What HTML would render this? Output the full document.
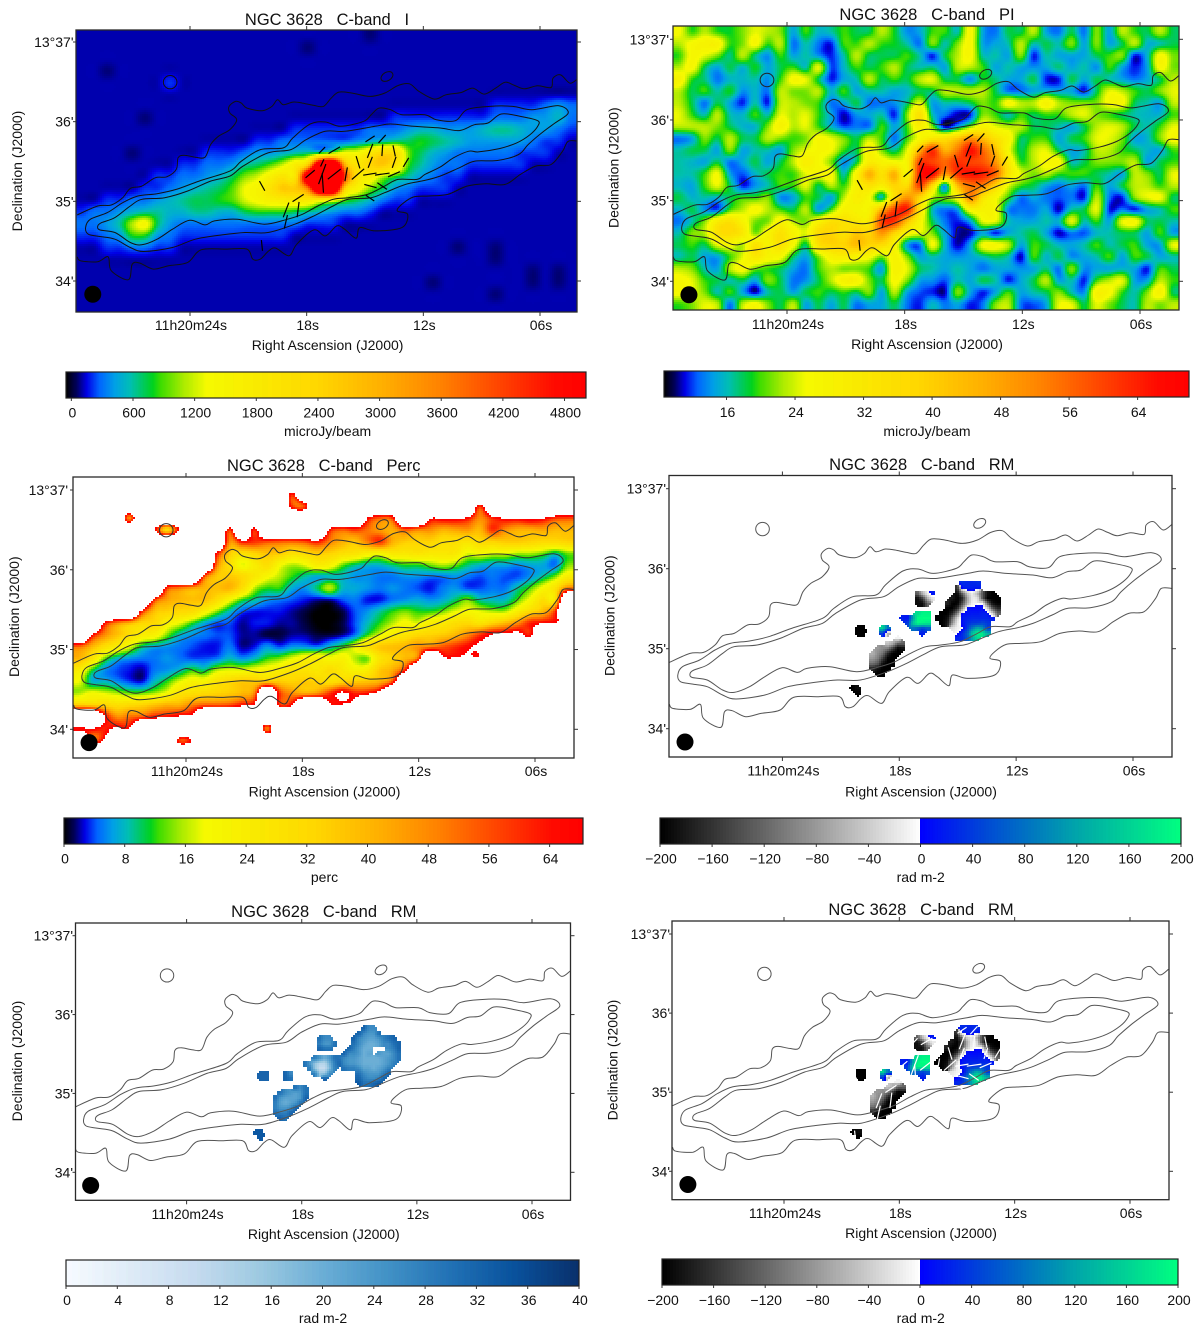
<!DOCTYPE html>
<html lang="en">
<head>
<meta charset="utf-8">
<title>NGC 3628 C-band maps</title>
<style>
html,body{margin:0;padding:0;background:#fff;}
svg{display:block;font-family:"Liberation Sans",sans-serif;fill:#111;}
text{white-space:pre;}
.t{font-size:16.5px;text-anchor:middle;}
.a{font-size:14px;text-anchor:middle;}
.l{font-size:14px;}
</style>
</head>
<body>
<svg id="figure" xmlns="http://www.w3.org/2000/svg" width="1200" height="1334" viewBox="0 0 1200 1334">
<g id="panel-i">
<text class="t" x="327" y="25">NGC 3628   C-band   I</text>
<text class="a" x="327.6" y="350">Right Ascension (J2000)</text>
<text class="a" transform="translate(22,171) rotate(-90)">Declination (J2000)</text>
<text class="a" x="327.6" y="436">microJy/beam</text>
</g>
<g id="panel-pi">
<text class="t" x="927" y="20">NGC 3628   C-band   PI</text>
<text class="a" x="927" y="349">Right Ascension (J2000)</text>
<text class="a" transform="translate(618.5,167.7) rotate(-90)">Declination (J2000)</text>
<text class="a" x="927" y="436">microJy/beam</text>
</g>
<g id="panel-perc">
<text class="t" x="323.7" y="471">NGC 3628   C-band   Perc</text>
<text class="a" x="324.5" y="796.5">Right Ascension (J2000)</text>
<text class="a" transform="translate(19,616.7) rotate(-90)">Declination (J2000)</text>
<text class="a" x="324.5" y="882">perc</text>
</g>
<g id="panel-rm">
<text class="t" x="921.8" y="470">NGC 3628   C-band   RM</text>
<text class="a" x="921" y="796.5">Right Ascension (J2000)</text>
<text class="a" transform="translate(614.6,615.7) rotate(-90)">Declination (J2000)</text>
<text class="a" x="920.7" y="882">rad m-2</text>
</g>
<g id="panel-rmerr">
<text class="t" x="323.8" y="917">NGC 3628   C-band   RM</text>
<text class="a" x="323.8" y="1239">Right Ascension (J2000)</text>
<text class="a" transform="translate(22,1061) rotate(-90)">Declination (J2000)</text>
<text class="a" x="323" y="1323">rad m-2</text>
</g>
<g id="panel-rmvec">
<text class="t" x="921" y="915">NGC 3628   C-band   RM</text>
<text class="a" x="921" y="1238">Right Ascension (J2000)</text>
<text class="a" transform="translate(617.6,1060) rotate(-90)">Declination (J2000)</text>
<text class="a" x="920.7" y="1323">rad m-2</text>
</g>
</svg>
<script>
// Axis ticks: RA in seconds of 11h20m, Dec in arcsec above 13d34'
const raTickValues=[24,18,12,6];
const raTickLabels=['11h20m24s','18s','12s','06s'];
const decTickValues=[180,120,60,0];
const decTickLabels=["13°37'","36'","35'","34'"];

// Colorbar ticks
const cbarTicksI=[0,600,1200,1800,2400,3000,3600,4200,4800];
const cbarTicksPI=[16,24,32,40,48,56,64];
const cbarTicksPerc=[0,8,16,24,32,40,48,56,64];
const cbarTicksRM=[-200,-160,-120,-80,-40,0,40,80,120,160,200];
const cbarTicksRMErr=[0,4,8,12,16,20,24,28,32,36,40];

// Total intensity, units of 100 microJy/beam, sampled on a 40x24 map grid
const intensityGrid=[
[1,1,1,1,1,1,1,1,1,1,1,1,1,1,1,1,1,1,1,1,1,1,1,.6],
[1,1,1,1,1,1,1,1,1,1,1,1,1,1,1,1,1,1,.6],
[],
[1,1,.6],
[1,1,1,1,1,1,1,2],
[],
[1,1,1,1,1,1,1,1,1,1,1,1,1,1,1,1,1,1,1,1,1,1,1,1,1,1,1,1,1,1,1,1,1,2,2,2,2,3,4,3],
[1,1,1,1,1,.6,1,1,1,1,1,1,1,1,1,1,1,1,1,1,1,1,1,1,1,2,2,2,2,2,2,2,2,3,3,3,4,4,5,3],
[1,1,1,1,1,1,1,1,1,1,1,1,1,1,1,1,1,2,2,2,2,2,2,3,3,3,4,5,5,4,4,4,5,6,6,5,4,4,3,2],
[1,1,1,1,1,1,1,1,1,1,1,1,1,1,2,2,3,3,3,3,3,3,4,5,6,7,7,8,7,6,5,4,4,4,4,4,3,2,2,1],
[1,1,1,1,.6,1,1,1,1,1,2,2,2,3,4,4,5,6,7,9,12,14,14,19,24,22,10,7,5,4,3,3,3,3,3,2,2,2,1,1],
[1,1,1,1,1,1,1,1,2,2,3,3,4,6,7,9,12,17,26,65,70,30,20,24,26,20,9,6,4,3,3,2,2,2,2,2,1,1,1,1],
[1,1,1,1,1,1,2,2,3,3,4,5,7,10,12,16,20,20,60,80,80,42,20,16,11,8,6,4,3,2,2,1,1,1,1,1,1,1,1,1],
[1,1,1,1,1,2,2,3,4,5,6,7,9,13,15,20,26,26,36,68,68,24,15,10,7,4,3,2,2,2,1,1,1,1,1,1,1,1,1,1],
[1,1,2,2,3,3,4,5,6,7,7,8,9,12,14,16,17,18,18,16,14,9,7,5,3,2,2,1,1,1,1,1,1,1,1,1,1,1,1,1],
[2,3,3,4,5,6,6,5,5,6,6,5,5,7,8,8,8,7,6,5,4,3,3,2,1,1,1,1,1,1,1,1,1,1,1,1,1,1,1,1],
[3,3,4,6,11,14,7,4,3,3,3,3,3,3,3,3,3,3,2,2,2,1,1,1,1,1,1,1,1,1,1,1,1,1,1,1,1,1,1,1],
[2,2,3,4,8,8,4,3,2,2,2,2,2,2,2,2,2,1,1,1,1,1,1,1,1,1,1,1,1,1,1,1,1,1,1,1,1,1,1,1],
[1,1,2,2,3,3,2,2,1,1,1,1,1,1,1,1,1,1,1,1,1,1,1,1,1,1,1,1,1,1,.6,1,1,.6,1,1,1,1,1,1],
[1,1,1,1,1,1,1,1,1,1,1,1,1,1,1,1,1,1,1,1,1,1,1,1,1,1,1,1,1,1,1,1,1,.6,1,1,1,1,1,1],
[1,1,1,1,1,1,1,1,1,1,1,1,1,1,1,1,1,1,1,1,1,1,1,1,1,1,1,1,1,1,1,1,1,1,1,1,.6,1,.6,1],
[1,1,1,1,1,1,1,1,1,1,1,1,1,1,1,1,1,1,1,1,1,1,1,1,1,1,1,1,.6,1,1,1,1,1,1,1,.6,1,.6,1],
[1,1,1,1,1,1,1,1,1,1,1,1,1,1,1,1,1,1,1,1,1,1,1,1,1,1,1,1,1,1,1,1,1,.6,1,1,1,1,1,1],
[]
];

// Polarized intensity, microJy/beam, 40x24 map grid
const polGrid=[
[27,20,24,20,19,22,26,24,22,14,20,15,16,20,18,18,24,19,13,14,20,20,16,28,14,12,18,18,24,14,12,18,12,22,14,24,20,18,24,18],
[24,28,30,30,20,22,28,20,24,12,16,12,10,20,20,24,20,19,16,12,22,16,22,28,14,14,16,24,16,18,16,22,14,22,14,18,24,15,16,18],
[20,28,26,22,17,24,17,13,20,14,16,13,10,16,24,18,18,18,20,16,10,18,24,28,16,16,14,22,10,16,14,14,14,18,20,22,10,15,28,22],
[24,28,18,14,18,15,19,14,18,20,16,26,11,15,20,18,20,24,18,16,17,14,24,24,20,14,16,14,13,14,17,14,16,13,20,14,10,14,28,22],
[30,20,17,12,15,15,16,13,20,28,26,18,10,14,16,24,18,20,18,24,26,18,18,13,19,17,14,14,18,10,10,18,14,18,16,14,12,14,18,24],
[24,18,20,16,19,13,15,12,24,22,22,24,15,20,14,16,16,14,15,18,18,24,24,24,24,18,12,12,14,15,14,14,10,18,26,24,20,18,22,26],
[24,18,12,18,14,10,16,10,24,24,22,20,12,14,18,12,12,13,17,26,14,16,16,18,22,20,28,24,24,30,24,22,22,22,28,28,18,16,14,24],
[26,20,16,24,16,15,20,16,26,24,26,20,14,9,13,14,16,10,22,36,16,12,9,10,22,20,16,20,18,20,20,24,26,22,20,18,16,15,15,20],
[24,24,24,22,18,15,15,22,30,24,26,20,15,11,12,12,20,14,20,32,22,9,14,22,30,26,24,24,18,18,16,14,18,24,26,24,18,16,20,26],
[12,14,22,18,24,18,18,24,22,20,22,28,26,22,18,24,20,12,20,28,34,36,42,50,44,36,30,18,20,20,14,18,20,26,26,22,14,15,22,28],
[16,18,18,14,22,14,16,16,14,22,26,28,27,20,18,30,22,17,26,46,62,46,54,66,56,44,28,18,24,26,18,14,16,24,24,20,18,15,14,20],
[16,15,14,18,12,14,18,14,18,24,32,28,22,13,18,32,30,28,30,60,60,56,62,60,58,50,34,20,24,28,28,16,18,22,22,22,24,14,18,20],
[16,16,20,27,14,11,15,18,20,20,26,28,28,16,30,46,36,46,30,64,68,50,62,66,64,56,36,26,22,24,20,20,20,18,16,14,24,22,18,26],
[15,14,20,26,18,10,13,16,20,20,26,18,24,20,30,36,32,40,38,60,38,14,44,54,52,40,26,20,18,14,12,14,12,20,14,18,24,24,20,24],
[18,15,16,15,18,20,20,22,13,14,20,18,14,24,32,28,16,38,50,40,24,22,30,52,36,28,20,12,14,12,11,12,10,24,12,10,22,26,27,18],
[15,18,13,11,20,24,28,24,20,18,24,14,20,30,30,30,45,60,64,36,16,12,14,30,30,28,13,12,12,14,9,16,18,26,10,12,10,14,16,20],
[12,16,22,32,36,30,22,22,30,24,22,30,36,36,34,34,60,62,44,30,18,12,10,14,26,26,16,14,14,16,15,26,16,20,14,26,28,18,18,16],
[16,22,24,36,38,34,22,30,36,30,26,38,40,36,42,40,50,40,30,26,22,14,9,9,14,10,14,16,18,14,9,12,11,15,16,18,18,14,20,14],
[18,20,18,26,28,24,36,30,36,28,18,36,40,40,44,40,38,30,14,12,27,15,9,14,27,28,24,14,20,18,15,14,16,20,16,18,20,14,14,26],
[16,18,14,14,20,26,34,30,28,18,14,22,30,32,30,28,22,30,22,14,16,14,13,14,16,18,16,9,20,15,18,13,14,16,20,14,20,18,14,16],
[24,22,16,14,24,28,22,20,18,14,12,20,24,22,22,20,14,30,26,18,16,14,16,14,12,14,14,13,14,17,12,22,13,14,14,15,14,10,20,18],
[28,26,20,18,16,18,14,22,18,12,13,18,24,30,30,22,18,28,22,14,13,11,16,14,18,16,10,14,18,24,14,16,10,20,24,26,14,14,24,20],
[28,26,22,16,20,14,9,16,18,14,18,20,18,20,18,22,14,24,14,11,10,9,22,14,10,14,20,14,16,18,22,16,13,30,28,20,16,22,30,18],
[20,22,26,24,12,24,28,22,18,24,14,18,14,18,12,14,14,18,12,10,15,12,14,10,12,22,24,12,11,14,26,26,18,26,22,18,16,24,22,24]
];

// Fractional polarization, percent, 40x24 map grid; B marks blanked pixels
const B=120;
const percGrid=[
[],
[B,B,B,B,B,B,B,B,B,B,B,B,B,B,B,B,B,62],
[B,B,B,B,B,B,B,B,B,B,B,B,B,B,B,B,B,60,58,B,B,B,B,B,B,B,B,B,B,B,B,B,60],
[B,B,B,B,48,B,B,B,B,B,B,B,B,B,B,B,B,B,B,B,B,B,B,70,55,60,B,B,72,72,72,66,48,62,70,70,75,70,60,58],
[B,B,B,B,B,B,70,32,70,B,B,B,60,B,62,B,B,B,B,B,65,55,60,52,45,42,55,50,48,42,44,46,40,60,48,42,42,44,40,40],
[B,B,B,B,B,B,B,B,B,B,B,B,48,65,60,58,56,55,58,65,50,42,38,50,60,42,36,34,34,30,30,28,32,34,36,36,34,32,32,34],
[B,B,B,B,B,B,B,B,B,B,B,66,36,30,34,38,36,30,32,36,34,30,28,24,22,26,26,28,26,26,26,18,20,18,18,16,16,14,10,14],
[B,B,B,B,B,B,B,B,B,B,B,50,30,18,24,30,20,16,18,24,22,14,10,8,8,10,12,12,14,16,14,10,8,7,7,6,7,7,5,14],
[B,B,B,B,B,B,B,B,B,B,56,36,36,32,26,20,16,12,9,7,8,8,6,6,5,5,6,6,5,5,6,5,4,5,4,4,6,9,14,24],
[B,B,B,B,B,B,B,60,50,44,40,38,40,30,16,12,12,7,6,10,16,8,7,6,5,6,5,4,3,5,6,4,4,5,5,9,13,20,28,50],
[B,B,B,B,B,B,60,44,40,38,38,30,20,12,9,6,5,4,3,2,2,4,5,3,3,5,6,7,6,7,10,14,9,8,8,13,20,30,30,B],
[B,B,B,B,B,62,38,34,32,30,22,14,8,4,3,3,3,2,1,0,0,1,4,6,9,12,14,12,12,14,18,20,18,16,16,24,32,40,60,B],
[B,B,66,48,40,32,32,22,18,12,7,4,4,2,3,3,2,2,1,0,0,1,4,8,12,16,20,18,24,26,30,32,28,34,40,48,62,68,70,75],
[B,68,48,38,30,24,22,14,8,6,5,4,4,2,2,1,1,2,2,1,1,2,5,12,18,24,28,32,34,36,40,48,60,70,75,78,65],
[52,40,30,24,18,10,7,6,5,4,3,3,5,2,3,6,4,6,6,5,8,12,18,28,36,38,40,46,50,55,60,66,72,78],
[40,28,14,8,6,5,5,6,5,4,4,5,8,6,8,12,14,18,22,24,20,22,16,14,28,34,40,52,B,75,70,75,72],
[24,12,6,4,3,2,5,6,8,12,10,16,18,18,20,22,24,28,28,26,30,26,22,24,36,42,62],
[18,8,8,6,4,3,8,12,18,22,22,28,32,36,36,38,36,34,36,34,30,34,36,38,42,58],
[16,20,18,16,14,14,16,20,28,30,32,34,36,40,50,B,60,48,44,48,60,72,62,66,78],
[38,36,34,30,32,34,38,42,42,50,56,56,58,66,72,B,62,70,B,B,72,70,78],
[B,B,70,48,52,56,64,66,72,76],
[66,68,62,72,70,B,B,B,B,B,B,B,B,B,B,50],
[B,56,72,B,B,B,B,B,58,70],
[]
];

// Rotation measure, rad m-2, local sky grid around the nucleus; holes are blanked pixels
const rmRaStart=20.38, rmRaStep=0.2557, rmDecStart=112.75, rmDecStep=3.75;
const rmGrid=[
[],
[,,,,,,,,,,,,,,,,,,,,,,30,25,25,30],
[,,,,,,,,,,,,,,,,,,,,,-160,15,20,20,15],
[,,,,,,,,,,,,,-120,-50,-10,20,,,,,-190,-120,-40,-15,-60,-130,-190,-200],
[,,,,,,,,,,,,,-190,-150,-60,-20,,,,-180,-200,-170,-70,-15,-20,-130,-200,-200,-200],
[,,,,,,,,,,,,,-190,-190,-120,,,,-170,-200,-200,-140,-60,-10,,-5,-120,-190,-200],
[,,,,,,,,,,,,,,,,,,,-200,-200,-170,-80,15,5,5,10,-30,-130,-170],
[,,,,,,,,,,,,,170,190,190,,,-200,-200,-170,-100,10,10,15,15,20,20,-30,-120],
[,,,,,,,,,,20,10,110,195,200,200,,-200,-200,-190,-110,-30,15,20,25,25,25,25,20],
[,,,,,,,,,,,40,150,195,190,180,,,-200,-180,-80,-15,10,30,40,40,50,40],
[,-200,-200,,,,160,80,,,,,80,60,40,60,,,,,-20,-10,-5,40,90,130,110,40],
[,-200,-200,,,,40,-60,,,,,,,20,,,,,,,-5,30,70,150,190,180,130],
[,,,,,,,,,-10,,,,,,,,,,,,25,30,60,120,170],
[,,,,,,,-40,-60,-120,-120],
[,,,,,-80,-90,-100,-150,-200,-190],
[,,,,-60,-90,-110,-170,-200,-200],
[,,,,-80,-100,-150,-200,-200],
[,,,,-110,-130,-190,-200,-200],
[,,,,-170,-190,-200,-200],
[,,,,,-200,-200],
[],
[],
[-200,-190],
[,-200]
];
const rmErrGrid=[
[],
[,,,,,,,,,,,,,,,,,,,,,,32,26,26],
[,,,,,,,,,,,,,,,,,,,,,32,26,24,24,30],
[,,,,,,,,,,,,,30,26,26,,,,,32,26,24,22,22,24,28,30,32],
[,,,,,,,,,,,,,28,24,24,30,,,,30,26,22,20,20,22,26,26,30,32],
[,,,,,,,,,,,,,32,30,30,,,,32,28,24,20,20,,,,26,28,32],
[,,,,,,,,,,,,,,,,,,32,26,26,24,20,22,,24,22,22,26,30],
[,,,,,,,,,,,,28,24,20,24,30,30,26,24,24,22,20,20,20,20,22,24,26,30],
[,,,,,,,,,,30,24,16,12,12,20,28,32,26,24,24,22,20,20,20,20,22,24,28],
[,,,,,,,,,,,28,16,10,10,18,28,,30,28,28,26,22,22,20,22,24,28],
[,32,32,,,,32,26,,,,,28,16,16,26,,,,,,30,26,24,24,24,28,32],
[,32,32,,,,32,30,,,,,,,32,,,,,,,32,28,26,26,28,32],
[,,,,,,,,,,,,,,,,,,,,,34,30,30,32,34],
[,,,,,,,,30,26,30],
[,,,,,30,26,24,22,24,30],
[,,,,30,24,22,22,22,24,32],
[,,,,28,22,20,22,24,30],
[,,,,28,24,24,26,32],
[,,,,30,28,28,32],
[,,,,,32,30],
[],
[],
[34,34],
[,34]
];

// Total-intensity contours: [RA seconds, Dec arcsec above 13d34']
const contourOuterTop=[[29.8,49.75],[28.74,56.5],[28.05,57.25],[27.46,62.75],[27.07,69.75],[26.48,71.5],[25.79,77.75],[25.2,78.5],[24.71,84],[24.61,92.75],[24.31,94.75],[23.72,93.25],[23.23,93.25],[22.94,102.75],[22.54,109],[21.95,114],[21.6,121.5],[21.95,126.5],[21.99,131.5],[21.66,135.25],[21.36,134],[21.07,130.25],[20.28,128.25],[19.79,131.5],[19.5,136.5],[19.2,132.75],[18.71,134.75],[18.22,134],[17.63,132.25],[17.14,131.5],[16.74,137.75],[16.35,142.25],[15.66,141.5],[14.77,139],[13.99,141.5],[13.3,147.25],[12.71,148.5],[12.22,142.75],[11.43,137],[10.84,140.25],[10.05,142],[9.46,145.25],[8.87,140.75],[8.28,145.25],[7.79,149.75],[7.3,147.25],[6.81,144.75],[6.12,147],[5.43,145.75],[5.33,152.75],[4.94,155.25],[4.45,149],[4,153.25]];
const contourOuterBottom=[[29.8,18.25],[29.63,15.25],[28.74,14.5],[28.21,18.25],[28.05,7.75],[27.17,1],[26.97,12.75],[26.58,13.5],[25.89,9],[25.1,11.5],[24.12,14],[23.43,23.5],[22.15,24],[21.07,24],[20.77,16.5],[20.38,16.5],[19.95,22.75],[19.59,24.75],[18.91,19],[18.51,27.75],[17.63,38.5],[17.04,34],[16.45,41.5],[16.05,39],[15.46,32.25],[15.27,40.25],[14.48,37.75],[13.1,40.25],[12.81,50.25],[13.34,52.75],[13.1,57.75],[12.51,63.25],[11.73,64],[10.74,65.25],[9.76,71.5],[8.78,73.25],[7.79,72.75],[7.01,80.25],[6.22,86.5],[5.43,87.75],[4.84,97.75],[4.55,105.25],[4,105.25]];
const contourMiddle=[[29.37,40.25],[29.13,46.5],[28.25,51.5],[27.46,59],[26.68,64],[25.69,65.75],[24.71,69],[23.53,75.25],[21.95,82.75],[21.36,90.25],[20.38,99],[19.2,100.25],[18.71,107.75],[17.82,118.25],[17.04,119.75],[16.25,116.5],[15.07,120.25],[14.68,125.25],[14.28,130.25],[13.69,129],[13.1,125.25],[11.92,125.25],[11.33,121.5],[10.35,120.75],[9.76,129],[8.58,131.5],[7.4,131.5],[6.42,129],[5.04,132],[4.55,126.5],[5.23,119],[5.92,111.5],[6.61,102.75],[7.1,95.25],[8.19,90.75],[9.37,90.25],[10.15,85.25],[11.14,79],[11.92,75.75],[12.91,72.75],[13.99,66.5],[14.68,62.75],[15.86,61.5],[16.64,56.5],[17.63,49],[18.61,42.75],[19.99,36.5],[21.17,36.5],[22.35,34.75],[23.72,31.5],[24.9,25.25],[26.38,22.25],[27.07,25.25],[27.86,31.5],[28.64,33.5],[29.23,35.25]];
const contourInner=[[28.74,41.5],[28.54,44],[27.86,47.75],[27.07,56.5],[26.48,61.5],[25.3,62.75],[24.12,67.75],[22.94,75.25],[21.95,79],[21.27,86.5],[19.99,96.5],[18.81,99],[18.02,106.5],[17.04,112.75],[16.05,112.75],[14.48,116.5],[13.69,118.25],[12.51,116.5],[11.14,115.25],[10.15,113.25],[9.37,117.75],[8.68,119],[7.99,125.75],[7.01,124],[6.12,120.75],[6.12,116.5],[6.51,110.25],[7.2,104],[8.09,99.75],[9.17,97.25],[9.66,97.75],[10.45,92.75],[11.14,85.75],[11.92,80.25],[12.32,76.5],[13.3,76.5],[13.99,71.5],[14.87,65.25],[15.86,62.75],[16.64,61.5],[17.43,56.5],[18.22,50.25],[19,46.5],[20.18,42.75],[21.56,46.5],[22.74,45.25],[23.23,42.25],[24.02,45.75],[24.9,39],[25.69,31.5],[26.48,27.25],[27.07,29],[27.86,36.5],[28.64,38.5]];
// Small isolated contours: [RA, Dec, RA half-width s, Dec half-height arcsec, tilt deg]
const contourIslands=[[25.02,149.75,0.35,5,0],[13.87,154,0.33,3.2,-30]];
// Restoring beam: [RA, Dec]
const beamPosition=[29.0,-10];
// Polarization vectors: [RA, Dec, position angle deg, length]
const polVectors=[[14.74,107,57,11],[14.12,107,42,10.8],[17.21,98.5,44,8.8],[16.58,98.5,60,13.3],[14.74,98,21,15],[14.11,98.5,4,11.7],[13.5,98,-12,11.2],[13.5,89.4,19,11.6],[12.89,89.4,31,10.5],[15.36,89.4,-17,12.9],[14.73,89.4,21,11.8],[17.2,89,25,8],[17.82,80.6,50,12],[17.2,80.5,20,21.3],[16.58,80.5,52,16.4],[15.97,80.4,10,13.9],[15.36,80.5,49,16.3],[14.75,80.5,81,13.5],[14.11,80.5,82,14.7],[13.51,80.4,67,12.9],[14.72,71.5,-75,12.7],[14.12,71.5,-55,11.7],[14.74,62.4,-56,10.2],[17.17,73.8,-4,19.4],[18.44,62.5,57,13.3],[19.06,53.5,21,15.8],[18.44,53.8,7,15.4],[19.07,44.6,13,14],[20.29,71.6,-29,11],[20.3,26.8,-6,10.8]];

// Colour maps
const rainbowStops=[[0,0,0,0],[.02,0,0,90],[.04,0,0,230],[.064,0,100,255],[.094,0,160,230],[.123,0,190,180],[.167,0,210,30],[.182,60,220,0],[.226,170,235,0],[.27,245,250,0],[.484,255,215,0],[.609,255,175,0],[.72,255,130,0],[.83,255,70,0],[.94,255,10,0],[1,255,0,0]];
const bluesStops=[[0,247,251,255],[.125,222,235,247],[.25,198,219,239],[.375,158,202,225],[.5,107,174,214],[.625,66,146,198],[.75,33,113,181],[.875,8,81,156],[1,8,48,107]];
const rmStops=[[0,0,0,0],[.4999,255,255,255],[.5,0,0,255],[.62,0,70,215],[.8,0,165,170],[1,0,255,128]];

function rampColor(stops,t){
  t=Math.max(0,Math.min(1,t));
  let i=1;
  while(i<stops.length-1&&stops[i][0]<t)i++;
  const a=stops[i-1],b=stops[i],f=(t-a[0])/(b[0]-a[0]||1);
  const q=n=>Math.round((a[n]+(b[n]-a[n])*f)/3)*3;
  return 'rgb('+Math.min(255,q(1))+','+Math.min(255,q(2))+','+Math.min(255,q(3))+')';
}

const NS='http://www.w3.org/2000/svg';
function el(tag,parent){
  const e=document.createElementNS(NS,tag);
  parent.appendChild(e);
  return e;
}

// Catmull-Rom sampling of a regular grid
function cr(p0,p1,p2,p3,t){
  return p1+0.5*t*(p2-p0+t*(2*p0-5*p1+4*p2-p3+t*(3*(p1-p2)+p3-p0)));
}
function gridSampler(grid,fill){
  const rows=grid.length,cols=40;
  const at=(r,c)=>{
    const row=grid[Math.max(0,Math.min(rows-1,r))];
    const v=row[Math.max(0,Math.min(cols-1,c))];
    return v==null?fill:v;
  };
  return function(fx,fy){
    const gx=fx*cols-.5,gy=fy*rows-.5;
    const c=Math.floor(gx),r=Math.floor(gy),tx=gx-c,ty=gy-r;
    const vals=[];
    for(let j=-1;j<3;j++){
      vals.push(cr(at(r+j,c-1),at(r+j,c),at(r+j,c+1),at(r+j,c+2),tx));
    }
    return cr(vals[0],vals[1],vals[2],vals[3],ty);
  };
}
function rmSampler(grid){
  return function(ra,dec){
    const fc=(rmRaStart-ra)/rmRaStep,fr=(rmDecStart-dec)/rmDecStep;
    const c=Math.floor(fc),r=Math.floor(fr),tx=fc-c,ty=fr-r;
    let sw=0,sv=0;
    const corners=[[r,c,(1-tx)*(1-ty)],[r,c+1,tx*(1-ty)],[r+1,c,(1-tx)*ty],[r+1,c+1,tx*ty]];
    for(const k of corners){
      const row=grid[k[0]];
      const v=row?row[k[1]]:undefined;
      if(v!=null){sw+=k[2];sv+=k[2]*v;}
    }
    return sw<.35?null:sv/sw;
  };
}

function drawHeat(group,x0,x1,y0,y1,step,valueAt,colorAt){
  for(let y=y0;y<y1;y+=step){
    let runStart=x0,runColor=null;
    const flush=(xEnd)=>{
      if(runColor){
        const r=el('rect',group);
        
        
        r.setAttribute('x',runStart);
        r.setAttribute('y',y);
        r.setAttribute('width',xEnd-runStart);
        r.setAttribute('height',Math.min(step,y1-y));
        r.setAttribute('fill',runColor);
      }
    };
    for(let x=x0;x<x1;x+=step){
      const v=valueAt(x+step/2,y+step/2);
      const col=v==null?null:colorAt(v);
      if(col!==runColor){
        flush(x);
        runStart=x;
        runColor=col;
      }
    }
    flush(x1);
  }
}

function smoothPath(pts,closed){
  const n=pts.length;
  const g=i=>closed?pts[(i+n)%n]:pts[Math.max(0,Math.min(n-1,i))];
  let d='M'+pts[0][0].toFixed(1)+' '+pts[0][1].toFixed(1);
  const end=closed?n:n-1;
  for(let i=0;i<end;i++){
    const p0=g(i-1),p1=g(i),p2=g(i+1),p3=g(i+2);
    d+='C'+(p1[0]+(p2[0]-p0[0])/6).toFixed(1)+' '+(p1[1]+(p2[1]-p0[1])/6).toFixed(1)+' '+(p2[0]-(p3[0]-p1[0])/6).toFixed(1)+' '+(p2[1]-(p3[1]-p1[1])/6).toFixed(1)+' '+p2[0].toFixed(1)+' '+p2[1].toFixed(1);
  }
  return d+(closed?'Z':'');
}

const sampleI=gridSampler(intensityGrid,1);
const samplePI=gridSampler(polGrid,20);
const samplePerc=gridSampler(percGrid,B);
const sampleRM=rmSampler(rmGrid);
const sampleErr=rmSampler(rmErrGrid);

// Soften the low end of the polarized-intensity noise, peaks keep their value
function polDisplay(v){
  if(v<32)return 18.5+(v-18.5)*.82;
  if(v<50)return 29.6+(v-32)*(20.4/18);
  return v;
}

const panels=[
 {id:'panel-i',L:76,R:577,T:30,B:312,x24:190,x6:540,y37:42,y34:281,decX:73.5,xt:330,
  cb:{L:66,R:586,T:372,B:398,min:-52,max:5009,ticks:cbarTicksI,base:417.5,stops:rainbowStops},
  kind:'grid',sample:sampleI,toVal:v=>v*100+10,contour:'#111',vec:'#000'},
 {id:'panel-pi',L:673,R:1179,T:26,B:310,x24:787,x6:1140,y37:39.3,y34:281.3,decX:669,xt:329,
  cb:{L:664,R:1189,T:371,B:397,min:8.7,max:70,ticks:cbarTicksPI,base:417,stops:rainbowStops},
  kind:'grid',sample:samplePI,toVal:polDisplay,contour:'#222',vec:'#000'},
 {id:'panel-perc',L:73,R:574,T:477,B:758,x24:186,x6:535,y37:490,y34:729.3,decX:68,xt:776,
  cb:{L:64,R:583,T:818,B:844,min:0,max:68.4,ticks:cbarTicksPerc,base:863.5,stops:rainbowStops},
  kind:'grid',sample:samplePerc,toVal:v=>v>68.4?null:Math.max(0,v),contour:'#333'},
 {id:'panel-rm',L:669,R:1172,T:475.5,B:757,x24:782.4,x6:1133,y37:488.7,y34:728.7,decX:666,xt:775.5,
  cb:{L:660,R:1181,T:818,B:844,min:-200,max:200,ticks:cbarTicksRM,base:863.5,stops:rmStops},
  kind:'rm',sample:sampleRM,contour:'#555'},
 {id:'panel-rmerr',L:75.5,R:570.5,T:923,B:1200.3,x24:186.6,x6:532,y37:935.7,y34:1172.3,decX:73,xt:1219,
  cb:{L:66,R:579,T:1260,B:1286,min:0,max:40,ticks:cbarTicksRMErr,base:1305,stops:bluesStops},
  kind:'rm',sample:sampleErr,contour:'#555'},
 {id:'panel-rmvec',L:672,R:1169,T:921,B:1199.7,x24:784,x6:1130,y37:934,y34:1171.3,decX:670,xt:1218,
  cb:{L:662,R:1178,T:1259,B:1285,min:-200,max:200,ticks:cbarTicksRM,base:1305,stops:rmStops},
  kind:'rm',sample:sampleRM,contour:'#555',vec:'#fff'}
];

const svg=document.getElementById('figure');
const defs=el('defs',svg);

panels.forEach(function(p,idx){
  const root=document.getElementById(p.id);
  const xRA=ra=>p.x24+(24-ra)*(p.x6-p.x24)/18;
  const yDec=dec=>p.y34-dec*(p.y34-p.y37)/180;
  const raOf=x=>24-(x-p.x24)*18/(p.x6-p.x24);
  const decOf=y=>(p.y34-y)*180/(p.y34-p.y37);
  const W=p.R-p.L,H=p.B-p.T;
  const cbT=(v)=>(v-p.cb.min)/(p.cb.max-p.cb.min);
  const cbColor=v=>rampColor(p.cb.stops,cbT(v));

  const clip=el('clipPath',defs);
  clip.setAttribute('id','clip'+idx);
  const cr0=el('rect',clip);
  cr0.setAttribute('x',p.L);
  cr0.setAttribute('y',p.T);
  cr0.setAttribute('width',W);
  cr0.setAttribute('height',H);

  // Raster
  const heat=el('g',root);
  
  
  heat.setAttribute('shape-rendering','crispEdges');
  heat.setAttribute('clip-path','url(#clip'+idx+')');
  const xa=Math.floor(p.L),xb=Math.ceil(p.R),ya=Math.floor(p.T),yb=Math.ceil(p.B);
  if(p.kind==='grid'){
    drawHeat(heat,xa,xb,ya,yb,2,(x,y)=>p.toVal(p.sample((x-p.L)/W,(y-p.T)/H)),cbColor);
  }else{
    const rx0=Math.floor(xRA(rmRaStart+rmRaStep)),rx1=Math.ceil(xRA(rmRaStart-rmRaStep*31));
    const ry0=Math.floor(yDec(rmDecStart+rmDecStep)),ry1=Math.ceil(yDec(rmDecStart-rmDecStep*25));
    drawHeat(heat,rx0,rx1,ry0,ry1,2,(x,y)=>p.sample(raOf(x),decOf(y)),cbColor);
  }

  // Contours
  const cg=el('g',root);
  
  
  cg.setAttribute('clip-path','url(#clip'+idx+')');
  cg.setAttribute('fill','none');
  cg.setAttribute('stroke',p.contour);
  cg.setAttribute('stroke-width','1');
  [[contourOuterTop,false,'contour-outer-top'],[contourOuterBottom,false,'contour-outer-bottom'],[contourMiddle,true,'contour-middle'],[contourInner,true,'contour-inner']].forEach(function(c){
    const path=el('path',cg);
    
    
    path.setAttribute('d',smoothPath(c[0].map(q=>[xRA(q[0]),yDec(q[1])]),c[1]));
  });
  contourIslands.forEach(function(c){
    const e=el('ellipse',cg);
    
    
    const cx=xRA(c[0]),cy=yDec(c[1]);
    e.setAttribute('cx',cx);
    e.setAttribute('cy',cy);
    e.setAttribute('rx',c[2]*(p.x6-p.x24)/18);
    e.setAttribute('ry',c[3]*(p.y34-p.y37)/180);
    e.setAttribute('transform','rotate('+c[4]+' '+cx+' '+cy+')');
  });

  // Polarization vectors
  if(p.vec){
    const vg=el('g',root);
    
    
    vg.setAttribute('clip-path','url(#clip'+idx+')');
    polVectors.forEach(function(v){
      const a=v[2]*Math.PI/180,dx=Math.sin(a)*v[3]/2,dy=-Math.cos(a)*v[3]/2;
      const sx=xRA(v[0]),sy=yDec(v[1]);
      const ln=el('line',vg);
      
      
      ln.setAttribute('x1',sx-dx);
      ln.setAttribute('y1',sy-dy);
      ln.setAttribute('x2',sx+dx);
      ln.setAttribute('y2',sy+dy);
      ln.setAttribute('stroke',p.vec);
      ln.setAttribute('stroke-width','1.2');
    });
  }

  // Beam
  const beam=el('ellipse',root);
  
  
  beam.setAttribute('cx',xRA(beamPosition[0]));
  beam.setAttribute('cy',yDec(beamPosition[1]));
  beam.setAttribute('rx','8.5');
  beam.setAttribute('ry','8.5');
  beam.setAttribute('fill','#000');

  // Frame
  const frame=el('rect',root);
  
  
  frame.setAttribute('x',p.L);
  frame.setAttribute('y',p.T);
  frame.setAttribute('width',W);
  frame.setAttribute('height',H);
  frame.setAttribute('fill','none');
  frame.setAttribute('stroke','#2a2a2a');
  frame.setAttribute('stroke-width','1.3');

  // Axis ticks
  function tick(name,x1,y1,x2,y2){
    const t=el('line',root);
    
    
    t.setAttribute('x1',x1);
    t.setAttribute('y1',y1);
    t.setAttribute('x2',x2);
    t.setAttribute('y2',y2);
    t.setAttribute('stroke','#333');
    t.setAttribute('stroke-width','1');
  }
  raTickValues.forEach(function(ra,i){
    const x=xRA(ra);
    tick('x-tick-top',x,p.T,x,p.T-4);
    tick('x-tick-bottom',x,p.B,x,p.B+4);
    const tx=el('text',root);
    tx.setAttribute('class','a');
    
    
    tx.setAttribute('x',x+1);
    tx.setAttribute('y',p.xt);
    tx.textContent=raTickLabels[i];
  });
  decTickValues.forEach(function(dec,i){
    const y=yDec(dec);
    tick('y-tick-right',p.R,y,p.R+4,y);
    tick('y-tick-left',p.L,y,p.L-3,y);
    const tx=el('text',root);
    tx.setAttribute('class','l');
    
    
    tx.setAttribute('x',p.decX);
    tx.setAttribute('y',y+5);
    tx.setAttribute('text-anchor','end');
    tx.textContent=decTickLabels[i];
  });

  // Colorbar
  const cb=p.cb;
  const bar=el('g',root);
  
  
  bar.setAttribute('shape-rendering','crispEdges');
  const cbScale=v=>cb.L+(v-cb.min)/(cb.max-cb.min)*(cb.R-cb.L);
  for(let x=cb.L;x<cb.R;x+=1){
    const r=el('rect',bar);
    
    
    r.setAttribute('x',x);
    r.setAttribute('y',cb.T);
    r.setAttribute('width',1);
    r.setAttribute('height',cb.B-cb.T);
    r.setAttribute('fill',rampColor(cb.stops,(x+.5-cb.L)/(cb.R-cb.L)));
  }
  const cbFrame=el('rect',root);
  
  
  cbFrame.setAttribute('x',cb.L);
  cbFrame.setAttribute('y',cb.T);
  cbFrame.setAttribute('width',cb.R-cb.L);
  cbFrame.setAttribute('height',cb.B-cb.T);
  cbFrame.setAttribute('fill','none');
  cbFrame.setAttribute('stroke','#222');
  cbFrame.setAttribute('stroke-width','1.2');
  cb.ticks.forEach(function(v){
    const x=cbScale(v);
    tick('colorbar-tick',x,cb.B,x,cb.B+3);
    const tx=el('text',root);
    tx.setAttribute('class','a');
    
    
    tx.setAttribute('x',x+1);
    tx.setAttribute('y',cb.base);
    tx.textContent=String(v).replace('-','\u2212');
  });
});
</script>
</body>
</html>
